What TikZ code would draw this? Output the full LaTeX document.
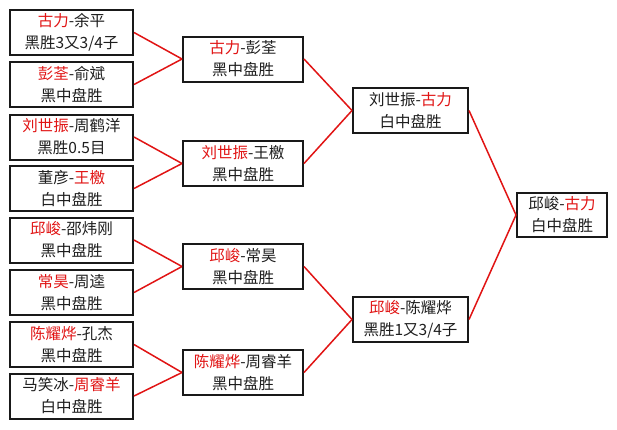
\documentclass[tikz,border=0pt]{standalone}
\usepackage{fontspec}
\newfontfamily\cjk{Noto Sans CJK SC}
\definecolor{winred}{RGB}{225,20,20}
\definecolor{txt}{RGB}{30,30,30}
\begin{document}
\begin{tikzpicture}[x=1pt,y=-1pt,
  game/.style={draw=black!90,line width=2pt,rectangle,inner sep=0pt,align=center,
    font=\cjk\fontsize{15.5}{22}\selectfont,text=txt,minimum height=45pt},
  c1/.style={game,minimum width=123pt},
  c2/.style={game,minimum width=120pt},
  c3/.style={game,minimum width=115pt},
  c4/.style={game,minimum width=90pt,minimum height=44pt},
  link/.style={draw=winred,line width=1.5pt}]
\newcommand{\rd}[1]{\textcolor{winred}{#1}}
\fill[white] (0,0) rectangle (617,429);
\useasboundingbox (0,0) rectangle (617,429);
% column 1
\node[c1] (a1) at (71.5,32.5) {\rd{古力}-余平\\黑胜3又3/4子};
\node[c1] (a2) at (71.5,84.5) {\rd{彭荃}-俞斌\\黑中盘胜};
\node[c1] (a3) at (71.5,137) {\rd{刘世振}-周鹤洋\\黑胜0.5目};
\node[c1] (a4) at (71.5,188.5) {董彦-\rd{王檄}\\白中盘胜};
\node[c1] (a5) at (71.5,240) {\rd{邱峻}-邵炜刚\\黑中盘胜};
\node[c1] (a6) at (71.5,292.5) {\rd{常昊}-周逵\\黑中盘胜};
\node[c1] (a7) at (71.5,344.5) {\rd{陈耀烨}-孔杰\\黑中盘胜};
\node[c1] (a8) at (71.5,396) {马笑冰-\rd{周睿羊}\\白中盘胜};
% column 2
\node[c2] (b1) at (243,59) {\rd{古力}-彭荃\\黑中盘胜};
\node[c2] (b2) at (243,163.5) {\rd{刘世振}-王檄\\黑中盘胜};
\node[c2] (b3) at (243,266.5) {\rd{邱峻}-常昊\\黑中盘胜};
\node[c2] (b4) at (243,372.5) {\rd{陈耀烨}-周睿羊\\黑中盘胜};
% column 3
\node[c3] (c1n) at (410.5,110.5) {刘世振-\rd{古力}\\白中盘胜};
\node[c3] (c2n) at (410.5,319.5) {\rd{邱峻}-陈耀烨\\黑胜1又3/4子};
% column 4
\node[c4] (d1) at (562,215) {邱峻-\rd{古力}\\白中盘胜};
% connectors
\draw[link] (a1.east) -- (b1.west);
\draw[link] (a2.east) -- (b1.west);
\draw[link] (a3.east) -- (b2.west);
\draw[link] (a4.east) -- (b2.west);
\draw[link] (a5.east) -- (b3.west);
\draw[link] (a6.east) -- (b3.west);
\draw[link] (a7.east) -- (b4.west);
\draw[link] (a8.east) -- (b4.west);
\draw[link] (b1.east) -- (c1n.west);
\draw[link] (b2.east) -- (c1n.west);
\draw[link] (b3.east) -- (c2n.west);
\draw[link] (b4.east) -- (c2n.west);
\draw[link] (c1n.east) -- (d1.west);
\draw[link] (c2n.east) -- (d1.west);
\end{tikzpicture}
\end{document}
